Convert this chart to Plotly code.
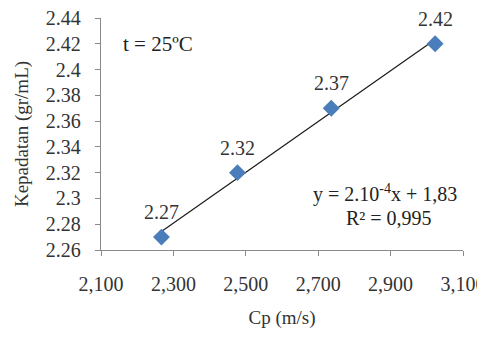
import numpy as np
import plotly.graph_objects as go

cp = [2267, 2477, 2736, 3023]
density = [2.27, 2.32, 2.37, 2.42]
labels = ["2.27", "2.32", "2.37", "2.42"]
x_ticks = [2100, 2300, 2500, 2700, 2900, 3100]
x_ticktext = ["2,100", "2,300", "2,500", "2,700", "2,900", "3,100"]
y_ticks = [2.26, 2.28, 2.30, 2.32, 2.34, 2.36, 2.38, 2.40, 2.42, 2.44]
y_ticktext = ["2.26", "2.28", "2.3", "2.32", "2.34", "2.36", "2.38", "2.4", "2.42", "2.44"]

slope, intercept = np.polyfit(cp, density, 1)
fit_x = [min(cp), max(cp)]
fit_y = [slope * v + intercept for v in fit_x]

FONT = "Liberation Serif"

fig = go.Figure()
fig.add_trace(go.Scatter(x=fit_x, y=fit_y, mode="lines",
                         line=dict(color="#1a1a1a", width=1.2), showlegend=False, hoverinfo="skip"))
fig.add_trace(go.Scatter(x=cp, y=density, mode="markers",
                         marker=dict(symbol="diamond", size=13, color="#4a7ebb"),
                         showlegend=False))

for xv, yv, t in zip(cp, density, labels):
    fig.add_annotation(x=xv, y=yv, text=t, showarrow=False, yshift=25,
                       font=dict(family=FONT, size=20, color="#333333"))

fig.add_annotation(xref="paper", yref="paper", x=0.055, y=0.89, xanchor="left", yanchor="middle",
                   text="t = 25ºC", showarrow=False, font=dict(family=FONT, size=21, color="#222222"))
fig.add_annotation(xref="paper", yref="paper", x=0.99, y=0.245, xanchor="right", yanchor="middle",
                   text="y = 2.10<sup>-4</sup>x + 1,83", showarrow=False,
                   font=dict(family=FONT, size=20, color="#222222"))
fig.add_annotation(xref="paper", yref="paper", x=0.795, y=0.137, xanchor="center", yanchor="middle",
                   text="R² = 0,995", showarrow=False,
                   font=dict(family=FONT, size=20, color="#222222"))

# page body has an 8px margin, so the figure is 8px smaller than the window
fig.update_layout(
    width=477, height=329,
    margin=dict(l=93, r=22, t=10, b=87),
    paper_bgcolor="white", plot_bgcolor="white",
    font=dict(family=FONT, size=20, color="#333333"),
)
fig.update_xaxes(range=[2100, 3100], tickvals=x_ticks, ticktext=x_ticktext, automargin=False,
                 showgrid=False, zeroline=False, showline=True, linecolor="#8a8a8a", linewidth=1.3,
                 ticks="outside", ticklen=5, tickcolor="#8a8a8a", ticklabelstandoff=11,
                 ticklabeloverflow="allow",
                 tickfont=dict(family=FONT, size=20, color="#333333"),
                 title=dict(text="Cp (m/s)", standoff=16, font=dict(family=FONT, size=19, color="#333333")))
fig.update_yaxes(range=[2.26, 2.44], tickvals=y_ticks, ticktext=y_ticktext, automargin=False,
                 showgrid=False, zeroline=False, showline=True, linecolor="#8a8a8a", linewidth=1.3,
                 ticks="outside", ticklen=5, tickcolor="#8a8a8a", ticklabelstandoff=10,
                 ticklabeloverflow="allow",
                 tickfont=dict(family=FONT, size=20, color="#333333"),
                 title=dict(text="Kepadatan (gr/mL)", standoff=12, font=dict(family=FONT, size=19, color="#333333")))

fig.write_html("out.html")
